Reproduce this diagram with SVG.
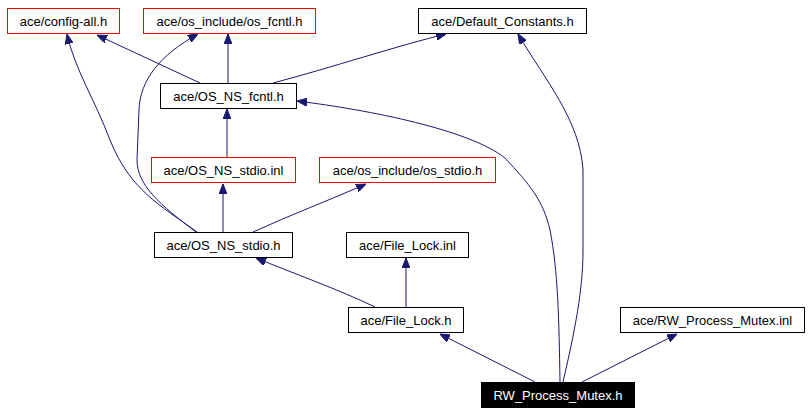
<svg xmlns="http://www.w3.org/2000/svg" width="811" height="413" viewBox="0 0 811 413">
<defs>
<marker id="arr" markerWidth="10" markerHeight="8" refX="10" refY="4" orient="auto" markerUnits="userSpaceOnUse">
<path d="M0,0 L10,4 L0,8 z" fill="#191970" stroke="#191970" stroke-width="1"/>
</marker>
</defs>
<style>
.box{fill:#fff;stroke:#000;stroke-width:1}
.red{fill:#fff;stroke:#ff0000;stroke-width:1}
.root{fill:#000;stroke:#000}
text{font-family:"Liberation Sans",Arial,sans-serif;font-size:13px;text-anchor:middle;fill:#000}
.wt{fill:#fff}
.e{fill:none;stroke:#191970;stroke-width:1;marker-end:url(#arr)}
</style>
<rect width="811" height="413" fill="#fff"/>
<g id="edges">
<path class="e" d="M200,83 L97,35"/>
<path class="e" d="M228,83 L228,34"/>
<path class="e" d="M273,83 C330,68 400,45 446,34"/>
<path class="e" d="M227,157 L227,109"/>
<path class="e" d="M197,232 C160,205 130,190 110,140 C95,100 75,70 67,34"/>
<path class="e" d="M196,232 C160,205 137,185 137,160 L139,110 C140,80 160,55 198,34"/>
<path class="e" d="M223,232 L223,184"/>
<path class="e" d="M253,232 C290,215 330,200 366,184"/>
<path class="e" d="M375,307 C340,290 290,272 256,258"/>
<path class="e" d="M406,307 L406,258"/>
<path class="e" d="M535,382 L440,334"/>
<path class="e" d="M582,382 L677,334"/>
<path class="e" d="M560,382 C559,320 558,270 550,230 C543,200 530,185 505,158 C470,130 370,110 297,101"/>
<path class="e" d="M563,382 C575,330 583,290 583,250 L583,170 C580,120 545,80 518,34"/>
</g>
<g id="n_config_all"><rect class="red" x="7.5" y="8.5" width="112" height="25"/><text x="63.5" y="25.5">ace/config-all.h</text></g>
<g id="n_os_fcntl"><rect class="red" x="143.5" y="8.5" width="172" height="25"/><text x="229.5" y="25.5">ace/os_include/os_fcntl.h</text></g>
<g id="n_default_constants"><rect class="box" x="418.5" y="8.5" width="168" height="25"/><text x="502.5" y="25.5">ace/Default_Constants.h</text></g>
<g id="n_os_ns_fcntl"><rect class="box" x="160.5" y="83.5" width="136" height="25"/><text x="228.5" y="100.5">ace/OS_NS_fcntl.h</text></g>
<g id="n_os_ns_stdio_inl"><rect class="red" x="151.5" y="157.5" width="144" height="25"/><text x="223.5" y="174.5">ace/OS_NS_stdio.inl</text></g>
<g id="n_os_stdio"><rect class="red" x="319.5" y="157.5" width="176" height="25"/><text x="407.5" y="174.5">ace/os_include/os_stdio.h</text></g>
<g id="n_os_ns_stdio"><rect class="box" x="154.5" y="232.5" width="138" height="25"/><text x="223.5" y="249.5">ace/OS_NS_stdio.h</text></g>
<g id="n_file_lock_inl"><rect class="box" x="346.5" y="232.5" width="122" height="25"/><text x="407.5" y="249.5">ace/File_Lock.inl</text></g>
<g id="n_file_lock"><rect class="box" x="348.5" y="307.5" width="115" height="25"/><text x="406" y="324.5">ace/File_Lock.h</text></g>
<g id="n_rw_inl"><rect class="box" x="620.5" y="307.5" width="184" height="25"/><text x="712.5" y="324.5">ace/RW_Process_Mutex.inl</text></g>
<g id="n_rw"><rect class="root" x="481.5" y="382.5" width="153" height="25"/><text class="wt" x="558" y="399.5">RW_Process_Mutex.h</text></g>
</svg>
